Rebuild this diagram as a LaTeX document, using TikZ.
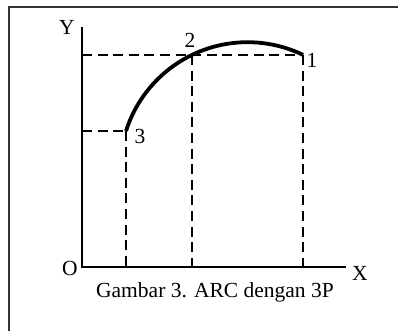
\documentclass[tikz,border=0pt]{standalone}
\usepackage{fontspec}
\setmainfont{Liberation Serif}
\usetikzlibrary{positioning}
\tikzset{
  frameline/.style={draw=black!80, line width=0.8pt},
  axis/.style={draw=black, line width=0.55pt},
  guide/.style={draw=black, line width=0.55pt, dash pattern=on 5pt off 2.8pt},
  arcline/.style={draw=black, line width=1.9pt},
  lbl/.style={inner sep=0pt, font=\fontsize{10.75}{13}\selectfont},
  caption/.style={inner sep=0pt, anchor=base, font=\fontsize{10.75}{13}\selectfont}
}

\begin{document}
\begin{tikzpicture}[x=0.5pt, y=0.5pt]
  \useasboundingbox (0,0) rectangle (398,331);
  % frame
  \coordinate (ftr) at (398,324);
  \coordinate (ftl) at (9,324);
  \coordinate (fbl) at (9,331-331);
  \draw[frameline] (ftr) -- (ftl) -- (fbl);

  % axes
  \coordinate (o) at (82,64);
  \coordinate (ytop) at (82,304);
  \coordinate (xend) at (346,64);
  \draw[axis] (ytop) -- (o) -- (xend);
  \node[lbl] (ylab) at (67,304) {Y};
  \node[lbl] (olab) at (70,63) {O};
  \node[lbl] (xlab) at (360,58) {X};

  % three points
  \coordinate (p1) at (303,276);
  \coordinate (p2) at (192,276);
  \coordinate (p3) at (126,200);
  \coordinate (y12) at (82,276);
  \coordinate (y3) at (82,200);
  \coordinate (x1) at (303,64);
  \coordinate (x2) at (192,64);
  \coordinate (x3) at (126,64);

  \draw[guide] (y12) -- (p1);
  \draw[guide] (y3) -- (p3);
  \draw[guide] (p3) -- (x3);
  \draw[guide] (p2) -- (x2);
  \draw[guide] (p1) -- (x1);

  \draw[arcline] (p3) arc[start angle=162.3, end angle=64.2, radius=127.6];

  \node[lbl] (n1) at (312,271) {1};
  \node[lbl] (n2) at (190,291) {2};
  \node[lbl] (n3) at (140,195) {3};

  \node[caption] (cap) at (215,33) {Gambar 3. ARC dengan 3P};
\end{tikzpicture}
\end{document}
